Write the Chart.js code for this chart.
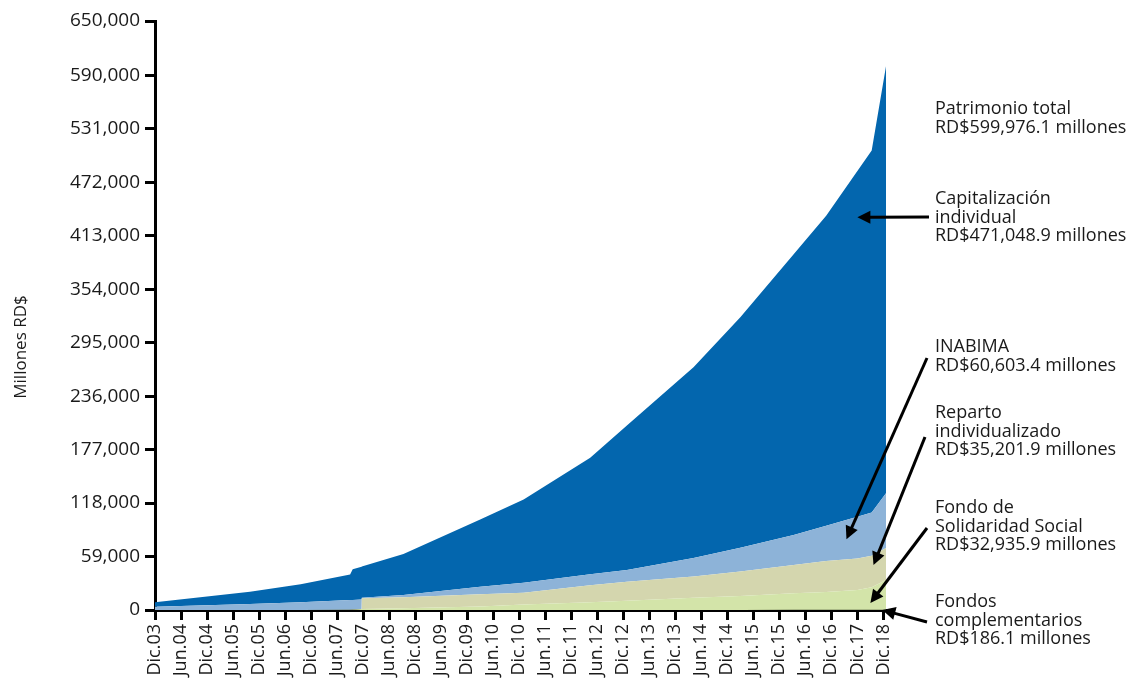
<!DOCTYPE html>
<html><head><meta charset="utf-8">
<script src="https://cdn.jsdelivr.net/npm/chart.js@4"></script>
<style>html,body{margin:0;padding:0;background:#fff}#wrap{width:1134px;height:682px}</style>
</head><body><div id="wrap"><canvas id="c" width="1134" height="682"></canvas></div>
<script>
const xLabels = ['Dic.03','Jun.04','Dic.04','Jun.05','Dic.05','Jun.06','Dic.06','Jun.07','Dic.07','Jun.08','Dic.08','Jun.09','Dic.09','Jun.10','Dic.10','Jun.11','Dic.11','Jun.12','Dic.12','Jun.13','Dic.13','Jun.14','Dic.14','Jun.15','Dic.15','Jun.16','Dic.16','Dic.17','Dic.18'];
const yTicks = [0,59000,118000,177000,236000,295000,354000,413000,472000,531000,590000,650000];
// positions along the category axis (index units) where the series were read
const xPos = [0,3.65,5.6,7.5,7.6,7.94,7.95,9.55,12.5,14.17,16.73,18.14,20.7,22.5,24.55,25.8,27,27.55,28.1];
// values in millones RD$
const fondosComplementarios = [0,0,0,0,0,0,5,20,40,60,80,95,110,125,140,150,165,175,186.1];
const solidaridadSocial = [0,0,0,300,500,1000,1195,1980,3960,5940,8420,10205,13390,15375,18260,19850,21835,24825,32935.9];
const repartoIndividualizado = [0,0,0,0,0,0,11700,12000,13300,13000,18700,20900,23600,27000,31200,34200,34800,35000,35201.9];
const inabima = [3600,6500,8500,10700,10600,10500,700,2500,8400,11000,12300,12900,20200,26100,33100,38900,46200,47700,60603.4];
const capitalizacionIndividual = [4900,13700,19800,28300,33800,36300,34300,45300,74300,92000,128500,159400,210700,254400,309900,341900,381400,399300,471048.9];

const yTitle = 'Millones RD$';
const notes = [
 {lines:['Patrimonio total','RD$599,976.1 millones'], baseline:114},
 {lines:['Capitalización','individual','RD$471,048.9 millones'], baseline:204},
 {lines:['INABIMA','RD$60,603.4 millones'], baseline:352},
 {lines:['Reparto','individualizado','RD$35,201.9 millones'], baseline:418},
 {lines:['Fondo de','Solidaridad Social','RD$32,935.9 millones'], baseline:513},
 {lines:['Fondos','complementarios','RD$186.1 millones'], baseline:607}
];
const arrows = [
 {from:[929,217], tipX:27.0, tipY:433500},
 {from:[927,358], tipX:26.58, tipY:78000},
 {from:[925,437], tipX:27.62, tipY:49600},
 {from:[927,528], tipX:27.5, tipY:7700},
 {from:[927,622], tipX:27.96, tipY:0}
];

const FONT = 'Open Sans';
function ds(label, vals, color, fill){
  return {label, data: xPos.map((x,i)=>({x, y: vals[i]})), backgroundColor: color,
    borderWidth:0, pointRadius:0, pointHoverRadius:0, fill, tension:0};
}

const annot = {
  id:'annot',
  afterDraw(chart){
    const ctx = chart.ctx, xs = chart.scales.x, ys = chart.scales.y;
    ctx.save();
    ctx.fillStyle = '#1a1a1a';
    // y axis title
    ctx.save();
    ctx.translate(26, 347); ctx.rotate(-Math.PI/2);
    ctx.font = '17px "' + FONT + '"'; ctx.textAlign = 'center'; ctx.textBaseline = 'alphabetic';
    ctx.fillText(yTitle, 0, 0);
    ctx.restore();
    ctx.font = '18px "' + FONT + '"';
    ctx.textAlign = 'left'; ctx.textBaseline = 'alphabetic';
    notes.forEach(n => n.lines.forEach((t,i) => ctx.fillText(t, 935, n.baseline + i*18.7)));
    ctx.strokeStyle = '#000'; ctx.fillStyle = '#000'; ctx.lineWidth = 3;
    arrows.forEach(a => {
      const [x0,y0] = a.from;
      const x1 = xs.getPixelForValue(a.tipX), y1 = ys.getPixelForValue(a.tipY);
      const dx = x1-x0, dy = y1-y0, L = Math.hypot(dx,dy), ux = dx/L, uy = dy/L;
      const hl = 13, hw = 6.5;
      const bx = x1 - ux*hl, by = y1 - uy*hl;
      ctx.beginPath(); ctx.moveTo(x0,y0); ctx.lineTo(bx+ux*2, by+uy*2); ctx.stroke();
      ctx.beginPath(); ctx.moveTo(x1,y1);
      ctx.lineTo(bx - uy*hw, by + ux*hw); ctx.lineTo(bx + uy*hw, by - ux*hw);
      ctx.closePath(); ctx.fill();
    });
    ctx.restore();
  }
};

new Chart(document.getElementById('c'), {
  type:'line',
  data:{datasets:[
    ds('Fondos complementarios', fondosComplementarios, '#c8dd9c', 'origin'),
    ds('Fondo de Solidaridad Social', solidaridadSocial, '#d3e4a9', '-1'),
    ds('Reparto individualizado', repartoIndividualizado, '#d4d6ae', '-1'),
    ds('INABIMA', inabima, '#8db3d8', '-1'),
    ds('Capitalización individual', capitalizacionIndividual, '#0366ae', '-1')
  ]},
  options:{
    responsive:false, animation:false, events:[],
    layout:{padding:{left:0, right:248, top:21, bottom:0}},
    plugins:{legend:{display:false}, tooltip:{enabled:false}},
    scales:{
      x:{type:'linear', min:0, max:28.1,
        afterBuildTicks: s => { s.ticks = xLabels.map((_,i)=>({value:i})); },
        ticks:{autoSkip:false, minRotation:90, maxRotation:90, padding:4, color:'#1a1a1a',
          font:{family:FONT, size:18}, callback:(v,i)=>xLabels[i]},
        grid:{drawOnChartArea:false, drawTicks:true, tickLength:10, tickWidth:3, tickColor:'#000'},
        border:{display:true, color:'#000', width:3},
        afterFit: s => { s.height = 72; }
      },
      y:{stacked:true, min:0, max:650000,
        afterBuildTicks: s => { s.ticks = yTicks.map(v=>({value:v})); },
        ticks:{padding:5, color:'#1a1a1a', font:{family:FONT, size:19},
          callback:(v)=>Number(v).toLocaleString('en-US')},
        grid:{drawOnChartArea:false, drawTicks:true, tickLength:10, tickWidth:3, tickColor:'#000'},
        border:{display:true, color:'#000', width:3},
        afterFit: s => { s.width = 155; }
      }
    }
  },
  plugins:[annot]
});
</script>
</body></html>
